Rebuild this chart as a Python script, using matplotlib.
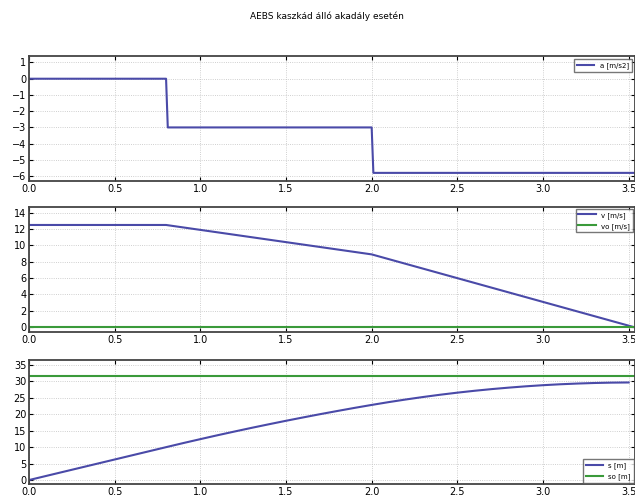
import matplotlib
matplotlib.use("Agg")
import matplotlib.pyplot as plt

# acceleration (step profile)
t_a = [0.0, 0.80, 0.81, 2.00, 2.01, 3.54]
a = [0.0, 0.0, -3.0, -3.0, -5.8, -5.8]

# speed
t_v = [0.0, 0.8, 2.0, 3.53, 3.54]
v = [12.5, 12.5, 8.9, 0.0, 0.0]
t_vo = [0.0, 3.54]
vo = [0.0, 0.0]

t_s = [0.0, 0.1, 0.2, 0.3, 0.4, 0.5, 0.6, 0.7, 0.8, 0.9, 1.0, 1.1, 1.2,
       1.3, 1.4, 1.5, 1.6, 1.7, 1.8, 1.9, 2.0, 2.1, 2.2, 2.3, 2.4, 2.5,
       2.6, 2.7, 2.8, 2.9, 3.0, 3.1, 3.2, 3.3, 3.4, 3.5]
s = [0.0, 1.25, 2.5, 3.75, 5.0, 6.25, 7.5, 8.75, 10.0, 11.24, 12.44,
     13.62, 14.76, 15.88, 16.96, 18.02, 19.04, 20.04, 21.0, 21.94, 22.84,
     23.70, 24.50, 25.25, 25.94, 26.57, 27.14, 27.65, 28.10, 28.50, 28.84,
     29.12, 29.34, 29.51, 29.62, 29.67]
t_so = [0.0, 3.54]
so = [31.5, 31.5]

blue = "#4a4aa8"
green = "#3a9a3a"

fig = plt.figure(figsize=(6.35, 4.99), dpi=100)
fig.text(0.515, 0.968, "AEBS kaszkád álló akadály esetén", ha="center",
         va="center", fontsize=6.5)

# axes boxes in figure fractions: [left, bottom, width, height]
left = 29 / 635
boxes = [(318 / 499, 125 / 499), (167 / 499, 125 / 499), (15 / 499, 124 / 499)]
axes = [fig.add_axes([left, b, 1.0 - left, h]) for b, h in boxes]

leg_kw = dict(fontsize=5, handlelength=2.5, fancybox=False,
              edgecolor="#555555", labelspacing=0.6)

ax1, ax2, ax3 = axes
ax1.plot(t_a, a, color=blue, lw=1.5, label="a [m/s2]")
ax1.set_ylim(-6.3, 1.4)
ax1.set_yticks(range(-6, 2))
ax1.legend(loc="upper right", borderaxespad=0.5, **leg_kw)

ax2.plot(t_v, v, color=blue, lw=1.5, label="v [m/s]")
ax2.plot(t_vo, vo, color=green, lw=1.5, label="vo [m/s]")
ax2.set_ylim(-0.6, 14.7)
ax2.set_yticks(range(0, 15, 2))
ax2.legend(loc="upper right", borderaxespad=0.3, **leg_kw)

ax3.plot(t_s, s, color=blue, lw=1.5, label="s [m]")
ax3.plot(t_so, so, color=green, lw=1.5, label="so [m]")
ax3.set_ylim(-1.2, 36.5)
ax3.set_yticks(range(0, 36, 5))
ax3.legend(loc="lower right", borderaxespad=0.2, **leg_kw)

for ax in axes:
    ax.set_xlim(0, 3.537)
    ax.set_xticks([0.0, 0.5, 1.0, 1.5, 2.0, 2.5, 3.0, 3.5])
    ax.tick_params(direction="in", labelsize=7, length=3, top=True,
                   right=True, pad=2)
    ax.grid(True, linestyle=":", color="#c0c0c0", linewidth=0.6)
    for sp in ax.spines.values():
        sp.set_color("#444444")
        sp.set_linewidth(1.3)

fig.savefig("out.png", dpi=100)
